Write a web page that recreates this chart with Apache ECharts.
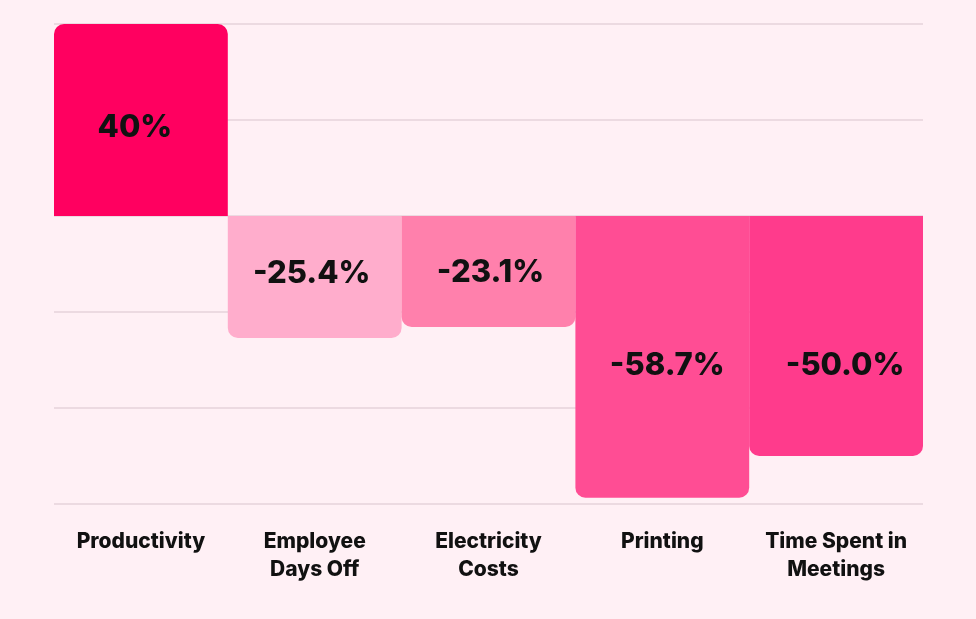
<!DOCTYPE html>
<html><head><meta charset="utf-8">
<script src="https://cdn.jsdelivr.net/npm/echarts@6/dist/echarts.min.js"></script>
<style>html,body{margin:0;padding:0;background:#fff0f5;}#c{width:976px;height:619px;}</style>
</head><body><div id="c"></div>
<script>
const categories = ["Productivity", "Employee\nDays Off", "Electricity\nCosts", "Printing", "Time Spent in\nMeetings"];
const values = [40, -25.4, -23.1, -58.7, -50.0];
const valueLabels = ["40%", "-25.4%", "-23.1%", "-58.7%", "-50.0%"];
const barColors = ["#ff0060", "#ffadcc", "#ff80ac", "#ff4d94", "#ff3b8c"];
const labelOffsets = [[-6, 8], [-3, -3], [2, 1], [5, 9], [9, 30]];

const chart = echarts.init(document.getElementById('c'));
chart.setOption({
  backgroundColor: '#fff0f5',
  animation: false,
  grid: {left: 54, right: 53, top: 24, bottom: 115},
  xAxis: {
    type: 'category', data: categories,
    axisLine: {show: false}, axisTick: {show: false},
    axisLabel: {color: '#111', fontSize: 21, fontWeight: 800, fontFamily: 'Inter, Roboto, sans-serif', lineHeight: 28, margin: 24, interval: 0}
  },
  yAxis: {
    type: 'value', min: -60, max: 40, interval: 20,
    axisLabel: {show: false}, axisLine: {show: false}, axisTick: {show: false},
    splitLine: {lineStyle: {color: '#e6d3da', width: 1.5}}
  },
  series: [{
    type: 'bar', barWidth: '100%',
    data: values.map((v, i) => ({
      value: v,
      itemStyle: {color: barColors[i], borderRadius: v >= 0 ? [10, 10, 0, 0] : [0, 0, 10, 10]},
      label: {offset: labelOffsets[i]}
    })),
    label: {
      show: true, position: 'inside', color: '#111', fontSize: 31, fontWeight: 800,
      fontFamily: 'Inter, Roboto, sans-serif',
      formatter: p => valueLabels[p.dataIndex]
    }
  }]
});
</script></body></html>
